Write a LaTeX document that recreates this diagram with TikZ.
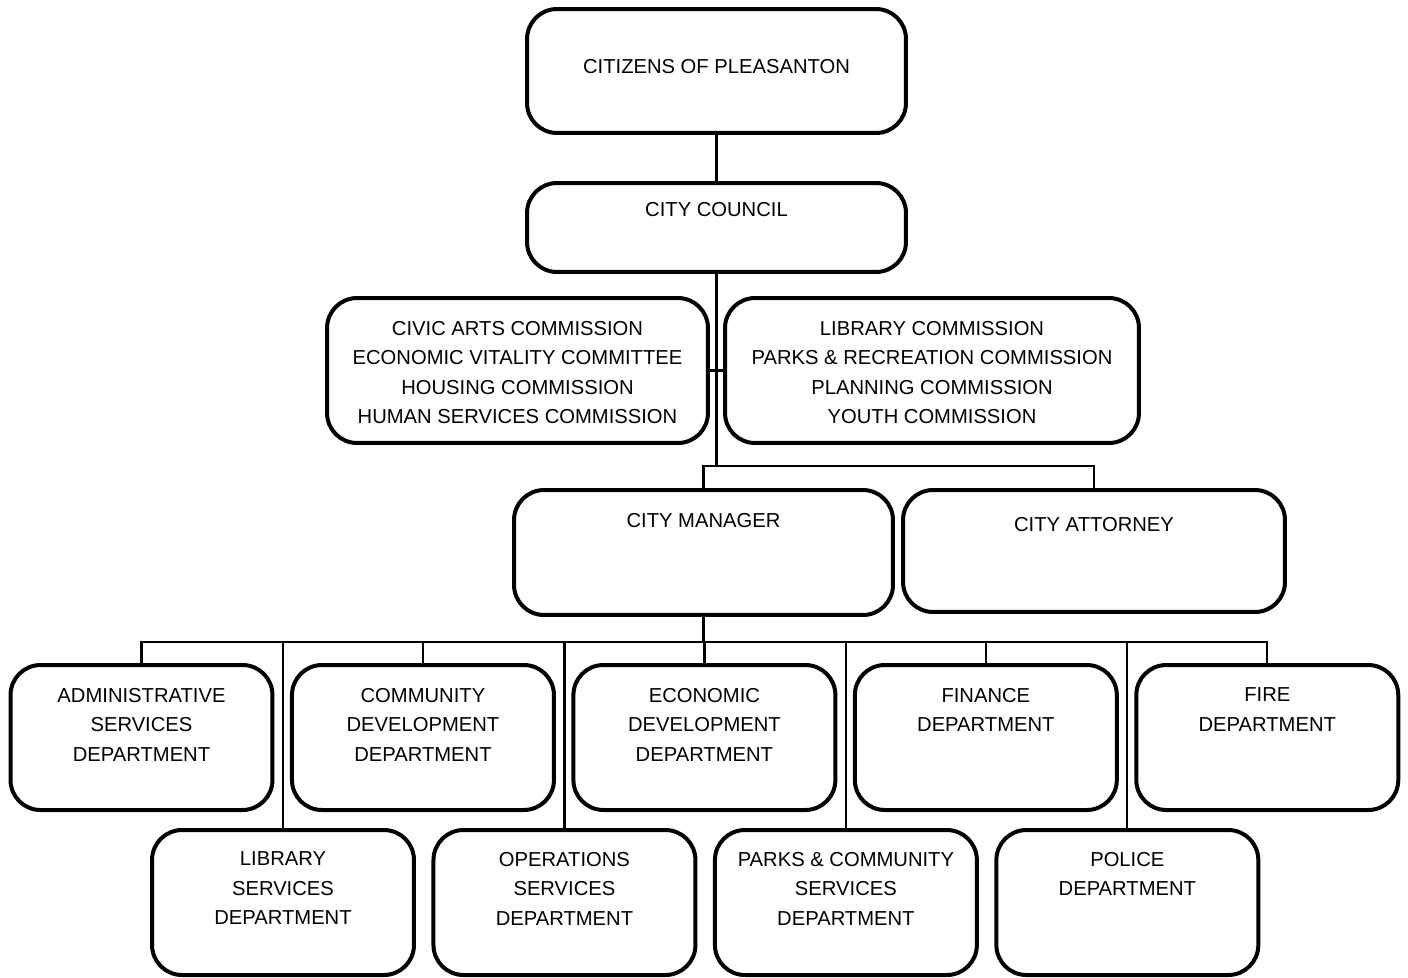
\documentclass[tikz,border=0pt]{standalone}
\usepackage{fontspec}
\setmainfont{Liberation Sans}
\usetikzlibrary{positioning}
\newcommand{\unitlabel}[4]{\parbox[c][#2][t]{#1}{\centering\vspace*{#3}#4}}

\begin{document}
\begin{tikzpicture}
[ x=0.02cm, y=-0.02cm, node distance=0mm and 3.9mm,
		office/.style={rectangle,rounded corners=6mm,draw,line width=0.8mm,inner sep=0pt,outer sep=0pt,font=\fontsize{11.5}{16.8}\selectfont},
		link/.style={line width=0.45mm}]
	\useasboundingbox (0,0) rectangle (1408,977);

	\node[office] (citizens) at (716.5,71) {\unitlabel{7.58cm}{2.48cm}{1.0cm}{CITIZENS OF PLEASANTON}};
	\node[office] (city council) at (716.5,227.5) {\unitlabel{7.58cm}{1.78cm}{0.38cm}{CITY COUNCIL}};
	\node[office] (arts commissions) at (517.5,370.5) {\unitlabel{7.62cm}{2.9cm}{0.46cm}{CIVIC ARTS COMMISSION\\ECONOMIC VITALITY COMMITTEE\\HOUSING COMMISSION\\HUMAN SERVICES COMMISSION}};
	\node[office] (planning commissions) at (932,370.5) {\unitlabel{8.28cm}{2.9cm}{0.46cm}{LIBRARY COMMISSION\\PARKS \& RECREATION COMMISSION\\PLANNING COMMISSION\\YOUTH COMMISSION}};
	\node[office] (city manager) at (703.5,552.5) {\unitlabel{7.58cm}{2.5cm}{0.46cm}{CITY MANAGER}};
	\node[office] (city attorney) at (1094,551) {\unitlabel{7.64cm}{2.44cm}{0.54cm}{CITY ATTORNEY}};

	\node[office] (administrative) at (141.5,737.5) {\unitlabel{5.24cm}{2.9cm}{0.46cm}{ADMINISTRATIVE\\SERVICES\\DEPARTMENT}};
	\node[office] (community) [right=of administrative] {\unitlabel{5.24cm}{2.9cm}{0.46cm}{COMMUNITY\\DEVELOPMENT\\DEPARTMENT}};
	\node[office] (economic) [right=of community] {\unitlabel{5.24cm}{2.9cm}{0.46cm}{ECONOMIC\\DEVELOPMENT\\DEPARTMENT}};
	\node[office] (finance) [right=of economic] {\unitlabel{5.24cm}{2.9cm}{0.46cm}{FINANCE\\DEPARTMENT}};
	\node[office] (fire) [right=of finance] {\unitlabel{5.24cm}{2.9cm}{0.46cm}{FIRE\\DEPARTMENT}};

	\node[office] (library) at (283,902.5) {\unitlabel{5.24cm}{2.9cm}{0.44cm}{LIBRARY\\SERVICES\\DEPARTMENT}};
	\node[office] (operations) [right=of library] {\unitlabel{5.24cm}{2.9cm}{0.44cm}{OPERATIONS\\SERVICES\\DEPARTMENT}};
	\node[office] (parks) [right=of operations] {\unitlabel{5.24cm}{2.9cm}{0.44cm}{PARKS \& COMMUNITY\\SERVICES\\DEPARTMENT}};
	\node[office] (police) [right=of parks] {\unitlabel{5.24cm}{2.9cm}{0.44cm}{POLICE\\DEPARTMENT}};

	\coordinate (council bar) at (716.5,466);
	\coordinate (manager bar) at (703.5,642);

	\draw[link] (citizens) -- (city council);
	\draw[link] (city council) -- (council bar);
	\draw[link] (arts commissions) -- (planning commissions);
	\draw[link] (city manager) |- (council bar) -| (city attorney);
	\draw[link] (city manager) -- (manager bar);
	\draw[link] (administrative) |- (manager bar) -| (fire);
	\foreach \dept in {community,economic,finance,library,operations,parks,police}
		\draw[link] (\dept) -- (\dept |- manager bar);
\end{tikzpicture}
\end{document}
